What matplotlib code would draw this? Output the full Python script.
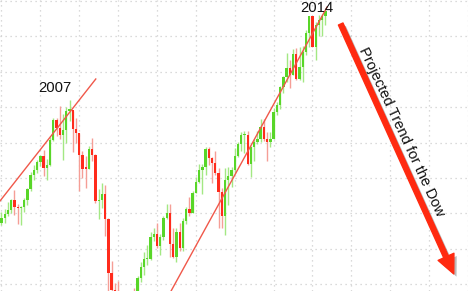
import matplotlib
matplotlib.use('Agg')
import matplotlib.pyplot as plt
import matplotlib.patheffects as pe
from matplotlib.patches import FancyArrowPatch
import numpy as np

# Monthly Dow candles, Jan 2006 .. May 2014
months = [f"{y}-{m:02d}" for y in range(2006, 2015) for m in range(1, 13)][:101]

closes = [10865, 10993, 11109, 11367, 11168, 11150, 11186, 11381, 11679, 12081, 12222, 12463,
          12622, 12269, 12354, 13063, 13628, 13409, 13212, 13358, 13896, 13930, 13372, 13265,
          12650, 12266, 12263, 12820, 12638, 11350, 11378, 11544, 10851, 9325, 8829, 8776,
          8001, 7063, 7609, 8168, 8500, 8447, 9172, 9496, 9712, 9713, 10345, 10428,
          10067, 10325, 10857, 11009, 10137, 9774, 10466, 10015, 10788, 11118, 11006, 11578,
          11892, 12226, 12320, 12811, 12570, 12414, 12143, 11614, 10913, 11955, 12046, 12218,
          12633, 12952, 13212, 13214, 12393, 12880, 13009, 13091, 13437, 13096, 13026, 13104,
          13861, 14054, 14579, 14840, 15116, 14910, 15500, 14810, 15130, 15546, 16086, 16577,
          15699, 16322, 16458, 16581, 16717]
highs = [11043, 11137, 11317, 11418, 11670, 11260, 11220, 11426, 11730, 12167, 12360, 12510,
         12660, 12795, 12550, 13170, 13690, 13700, 14022, 13800, 14000, 14198, 13900, 13700,
         13280, 12770, 12630, 12910, 13140, 12680, 11700, 11860, 11790, 10880, 9650, 9030,
         9090, 8280, 7950, 8250, 8590, 8880, 9230, 9630, 9920, 10120, 10460, 10580,
         10730, 10420, 10930, 11260, 11260, 10600, 10580, 10720, 10860, 11170, 11450, 11630,
         12020, 12390, 12390, 12880, 12876, 12600, 12750, 12290, 11720, 12280, 12300, 12300,
         12840, 13010, 13290, 13340, 13340, 12900, 13100, 13330, 13660, 13660, 13300, 13300,
         13970, 14150, 14590, 14890, 15540, 15340, 15650, 15660, 15710, 15720, 16170, 16590,
         16590, 16400, 16600, 16630, 16740]
lows = [10661, 10731, 10920, 11007, 10950, 10706, 10683, 11036, 11250, 11630, 11950, 12140,
        12350, 12050, 11940, 12350, 13050, 13200, 13100, 12500, 13000, 13600, 12720, 13000,
        11635, 12000, 11730, 12250, 12470, 11300, 10830, 11150, 10360, 7880, 7450, 8150,
        7910, 7050, 6470, 7470, 8000, 8200, 8090, 9050, 9250, 9540, 9680, 10220,
        10030, 9830, 10260, 10850, 9770, 9740, 9614, 9940, 9930, 10710, 10930, 11000,
        11570, 11850, 11555, 12080, 12380, 11860, 12090, 10600, 10600, 10400, 11230, 11740,
        12150, 12580, 12760, 12710, 12360, 12040, 12490, 12960, 13030, 13040, 12470, 12880,
        13100, 13780, 13940, 14400, 14700, 14550, 14900, 14760, 14780, 14720, 15470, 15700,
        15690, 15340, 16000, 16000, 16330]
opens = [10718] + closes[:-1]

# Overlay annotations (data coordinates)
trend_2007 = ([-0.46, 29.1], [11350, 14796])
trend_2014 = ([50.5, 100.5], [8500, 16830])
arrow_start = (104.7, 16350)
arrow_end = (139.6, 9290)
labels = [("2007", 16.6, 14528), ("2014", 97.2, 16816)]
arrow_text = ("Projected Trend for the Dow", 123.4, 13300)

fig = plt.figure(figsize=(4.68, 2.91), dpi=100)
ax = fig.add_axes([0, 0, 1, 1])
ax.set_xlim(-0.46, 143.5)
ax.set_ylim(8807, 17028)

ax.set_xticks(np.arange(0, 145, 12))
ax.set_yticks(np.arange(9000, 17001, 1000))
ax.tick_params(length=0, labelbottom=False, labelleft=False)
for s in ax.spines.values():
    s.set_visible(False)
ax.grid(True, linestyle=(0, (1, 3)), color='#cfcfcf', linewidth=0.9)
ax.set_axisbelow(True)

x = np.arange(len(closes))
o = np.array(opens, float)
c = np.array(closes, float)
h = np.array(highs, float)
l = np.array(lows, float)
up = c >= o
body_col = np.where(up, '#58d628', '#ff2b1c')
wick_col = np.where(up, '#a3e883', '#f59e96')

ax.vlines(x, l, h, colors=wick_col, linewidth=1.0, zorder=2)
bottom = np.minimum(o, c)
height = np.maximum(np.abs(c - o), 40)
ax.bar(x, height, bottom=bottom, width=0.72, color=body_col, linewidth=0, zorder=3)

ax.plot(*trend_2007, color='#f0584a', linewidth=1.0, zorder=4)
ax.plot(*trend_2014, color='#f0584a', linewidth=1.0, zorder=4)

for txt, xi, yi in labels:
    ax.text(xi, yi, txt, ha='center', va='center', fontsize=10.7,
            family='Liberation Sans', color='#111111', zorder=5)

arr = FancyArrowPatch(arrow_start, arrow_end,
                      arrowstyle='simple,head_length=1.35,head_width=1.25,tail_width=0.36',
                      mutation_scale=10, color='#ff2a10', shrinkA=0, shrinkB=0, zorder=5,
                      path_effects=[pe.withSimplePatchShadow(offset=(2, -2), shadow_rgbFace='#777777', alpha=0.5)])
ax.add_patch(arr)

ax.text(arrow_text[1], arrow_text[2], arrow_text[0], rotation=-65, rotation_mode='anchor',
        ha='center', va='center', fontsize=10.6, family='Liberation Sans', color='#111111', zorder=6)

fig.savefig('out.png', dpi=100)
